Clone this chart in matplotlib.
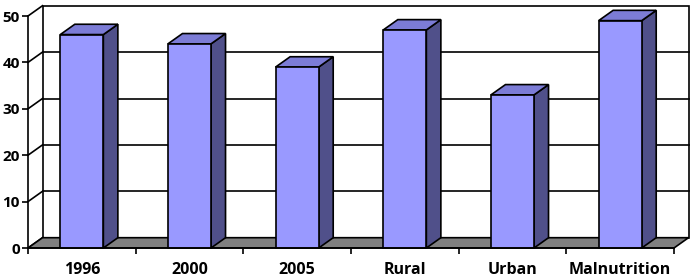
import matplotlib
matplotlib.use("Agg")
import matplotlib.pyplot as plt
from matplotlib.patches import Polygon, Rectangle
import numpy as np

categories = ["1996", "2000", "2005", "Rural", "Urban", "Malnutrition"]
values = [46, 44, 39, 47, 33, 49]
yticks = [0, 10, 20, 30, 40, 50]

plt.rcParams['font.family'] = ['Open Sans', 'DejaVu Sans']

W, H = 694, 280
fig = plt.figure(figsize=(W / 100, H / 100), dpi=100)
fig.patch.set_facecolor('white')
ax = fig.add_axes([28 / W, 32 / H, 646 / W, 232 / H])
ax.set_xlim(-0.5, 5.5)
ax.set_ylim(0, 50)
ax.patch.set_visible(False)

pxx = 646 / 6.0
pxy = 232 / 50.0
DX = 14.5 / pxx
DY = 10.3 / pxy
LW = 1.2
n = len(categories)
x0, x1 = -0.5, n - 0.5

# back wall
ax.add_patch(Rectangle((x0 + DX, DY), x1 - x0, 50, facecolor='white',
                       edgecolor='black', lw=LW, clip_on=False, zorder=0.5))
# gridlines on back wall + left side wall diagonals
for v in yticks:
    if 0 < v < 50:
        ax.plot([x0 + DX, x1 + DX], [v + DY, v + DY], color='black', lw=LW,
                clip_on=False, zorder=0.6)
    ax.plot([x0, x0 + DX], [v, v + DY], color='black', lw=LW,
            clip_on=False, zorder=0.6)

# floor
ax.add_patch(Polygon([(x0, 0), (x1, 0), (x1 + DX, DY), (x0 + DX, DY)],
                     closed=True, facecolor='#808080', edgecolor='black',
                     lw=LW, clip_on=False, zorder=1))

# bars
bw = 0.40
front_c = '#9999FF'
top_c = '#7C7CD6'
side_c = '#50508A'
for i, v in enumerate(values):
    l, r = i - bw / 2, i + bw / 2
    ax.add_patch(Polygon([(r, 0), (r + DX, DY), (r + DX, v + DY), (r, v)],
                         closed=True, facecolor=side_c, edgecolor='black',
                         lw=LW, clip_on=False, zorder=3))
    ax.add_patch(Polygon([(l, v), (r, v), (r + DX, v + DY), (l + DX, v + DY)],
                         closed=True, facecolor=top_c, edgecolor='black',
                         lw=LW, clip_on=False, zorder=3))
    ax.add_patch(Rectangle((l, 0), bw, v, facecolor=front_c,
                           edgecolor='black', lw=LW, clip_on=False, zorder=3.1))

# axes styling
for s in ['top', 'right']:
    ax.spines[s].set_visible(False)
ax.spines['left'].set_linewidth(LW)
ax.spines['bottom'].set_linewidth(LW)
ax.spines['bottom'].set_zorder(4)
ax.spines['left'].set_zorder(4)

ax.set_yticks(yticks)
ax.set_yticklabels([str(t) for t in yticks], fontsize=11, fontweight='bold')
ax.tick_params(axis='y', direction='out', length=4, width=LW, pad=2)

ax.set_xticks(np.arange(x0, x1 + 0.01, 1.0))
ax.set_xticklabels([])
ax.tick_params(axis='x', which='major', direction='out', length=4, width=LW)
ax.set_xticks(np.arange(n), minor=True)
ax.set_xticklabels(categories, minor=True, fontsize=11.5, fontweight='bold')
ax.tick_params(axis='x', which='minor', length=0, pad=10)

fig.savefig('out.png', dpi=100, facecolor='white')
